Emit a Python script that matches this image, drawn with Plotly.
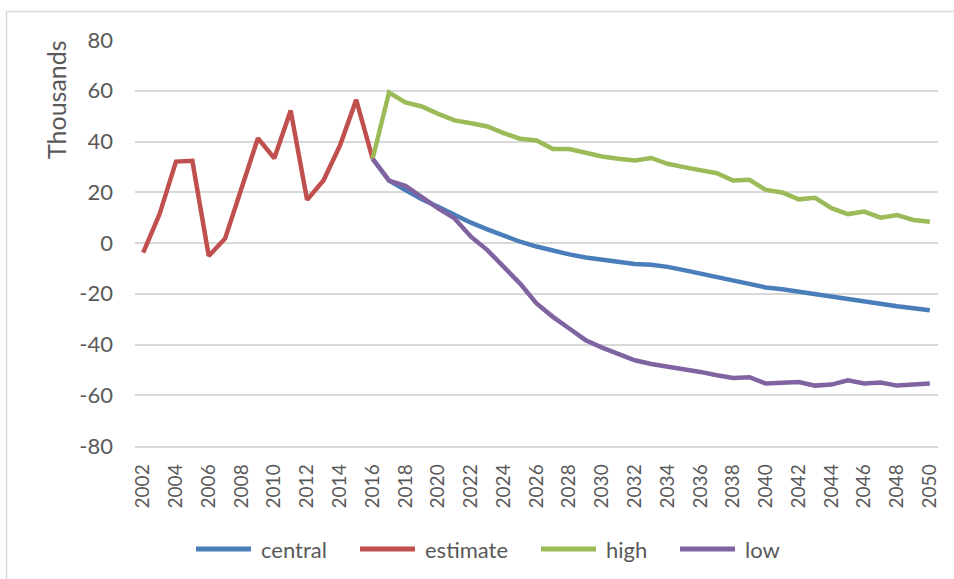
import plotly.graph_objects as go

# Years and series values (thousands)
years_est = list(range(2002, 2017))
estimate = [-3.8, 11.4, 32.1, 32.4, -5.1, 1.8, 21.6, 41.3, 33.4, 52.2, 17.0, 24.6, 38.3, 56.4, 33.2]

years_proj = list(range(2016, 2051))
central = [33.2, 24.6, 20.9, 17.2, 14.3, 11.0, 8.0, 5.4, 2.8, 0.5, -1.4, -3.0, -4.5, -5.7,
           -6.7, -7.6, -8.3, -8.6, -9.4, -10.7, -12.0, -13.3, -14.9, -16.3, -17.5, -18.2,
           -19.2, -20.1, -21.2, -22.1, -23.0, -24.1, -24.9, -25.7, -26.5]
high = [33.2, 59.3, 55.4, 53.8, 50.9, 48.3, 47.2, 45.9, 43.3, 41.1, 40.4, 37.0, 37.0, 35.4,
        34.1, 33.2, 32.5, 33.5, 31.2, 29.9, 28.8, 27.5, 24.6, 24.9, 20.9, 19.9, 17.2, 17.8,
        13.7, 11.4, 12.4, 10.0, 11.0, 9.1, 8.4]
low = [33.2, 24.6, 22.5, 18.0, 13.7, 9.7, 2.5, -2.8, -9.4, -16.0, -23.8, -29.1, -33.7, -38.3,
       -41.2, -43.8, -46.2, -47.7, -48.6, -49.5, -50.8, -52.1, -53.2, -52.9, -55.4, -55.1,
       -54.8, -56.2, -55.8, -54.1, -55.4, -55.0, -56.2, -55.8, -55.4]

tick_years = list(range(2002, 2051, 2))
y_ticks = list(range(-80, 81, 20))
y_tick_text = [str(v) for v in y_ticks]  # plain hyphen for negatives

FONT = "Lato"
TXT = "#595959"
GRID = "#D9D9D9"

W, H = 954, 579
ML, MR, MT, MB = 135, 16, 40, 133
PW, PH = W - ML - MR, H - MT - MB


def px_to_paper(px, py):
    return (px - ML) / PW, (H - MB - py) / PH


fig = go.Figure()
series = [
    ("central", years_proj, central, "#4A7EBB"),
    ("estimate", years_est, estimate, "#C0504D"),
    ("high", years_proj, high, "#9BBB59"),
    ("low", years_proj, low, "#8064A2"),
]
for name, xs, ys, col in series:
    fig.add_trace(go.Scatter(x=xs, y=ys, mode="lines", name=name, showlegend=False,
                             line=dict(color=col, width=4.5)))

# Legend row below the axis: a long line swatch followed by the series name
legend_starts = [196, 360, 541, 680]
swatch_len, legend_y = 55, 549
shapes = []
annotations = []
for (name, _, _, col), sx in zip(series, legend_starts):
    x0, y0 = px_to_paper(sx, legend_y)
    x1, _ = px_to_paper(sx + swatch_len, legend_y)
    shapes.append(dict(type="line", xref="paper", yref="paper", x0=x0, x1=x1, y0=y0, y1=y0,
                       line=dict(color=col, width=5)))
    tx, _ = px_to_paper(sx + swatch_len + 8, legend_y)
    annotations.append(dict(text=name, xref="paper", yref="paper", x=tx, y=y0,
                            xanchor="left", yanchor="middle", showarrow=False,
                            font=dict(size=22, color=TXT)))

# Outer chart frame
bx0, by1 = px_to_paper(6.5, 11.5)
shapes.append(dict(type="rect", xref="paper", yref="paper", x0=bx0, x1=1.05,
                   y0=-0.40, y1=by1, line=dict(color=GRID, width=1.5), layer="below"))

tx, ty = px_to_paper(56, 100)
annotations.append(dict(text="Thousands", xref="paper", yref="paper", x=tx, y=ty,
                        textangle=-90, showarrow=False, font=dict(size=25, color=TXT),
                        xanchor="center", yanchor="middle"))

fig.update_layout(
    width=W, height=H,
    margin=dict(l=ML, r=MR, t=MT, b=MB),
    paper_bgcolor="white", plot_bgcolor="white",
    font=dict(family=FONT, color=TXT, size=20),
    showlegend=False,
    xaxis=dict(range=[2001.5, 2050.5], tickvals=tick_years,
               ticktext=[str(y) for y in tick_years], tickangle=-90,
               showgrid=False, zeroline=False, showline=True, linecolor=GRID,
               linewidth=1.5, ticks="", tickfont=dict(size=19, color=TXT),
               ticklabelstandoff=9),
    yaxis=dict(range=[-80, 80], tickvals=y_ticks, ticktext=y_tick_text, showgrid=True,
               gridcolor=GRID, gridwidth=1.5, zeroline=False, showline=False, ticks="",
               tickfont=dict(size=22, color=TXT), ticklabelstandoff=21),
    annotations=annotations,
    shapes=shapes,
)

fig.write_html("out.html")
